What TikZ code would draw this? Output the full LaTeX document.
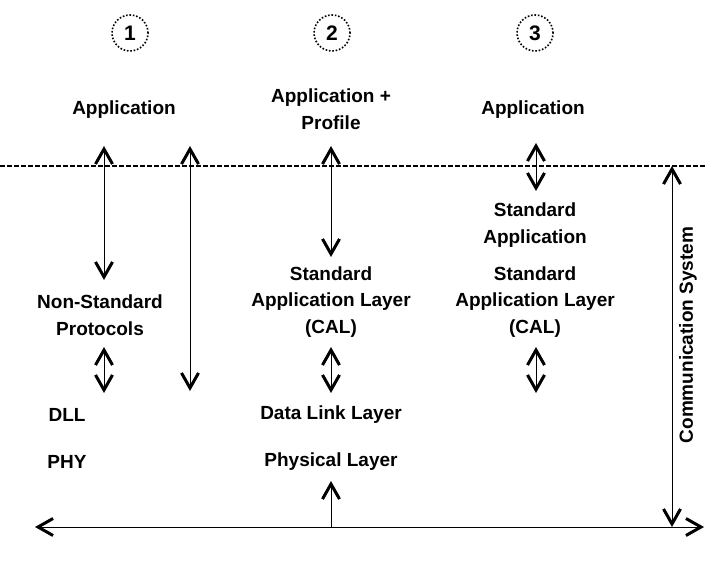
\documentclass[tikz,border=0pt]{standalone}
\usepackage{fontspec}
\setmainfont{Liberation Sans}
\usetikzlibrary{arrows.meta, positioning, calc}
\tikzset{
	every node/.style={
		align=center,
	},
	layer-text/.style={
		inner sep=0pt,
		font=\bfseries\fontsize{19}{26.5}\selectfont,
		text centered,
		anchor=center
	},
	case-mark/.style={
		circle,
		draw=black, line width=1.6pt, dash pattern=on 1.6pt off 1.8pt,
		minimum size=36pt,
		inner sep=0pt,
		font=\bfseries\fontsize{21}{22}\selectfont
	},
	barb/.tip = {Straight Barb[length=15pt,width=17pt,line width=3pt]},
	edge-style/.style   = {line width=0.9pt, barb-barb},
	edge-one-style/.style = {line width=0.9pt, -barb},
	split-style/.style = {line width=1.5pt, dash pattern=on 5pt off 2pt},
}

\begin{document}
\begin{tikzpicture}[x=1pt,y=-1pt]
	\useasboundingbox (0,0) rectangle (706,569);
	% the three cases
	\node (c1) [case-mark] at (130,33) {1};
	\node (c2) [case-mark] at (332,33) {2};
	\node (c3) [case-mark] at (535,33) {3};
	% user level
	\node (app1) [layer-text] at (124,110) {Application};
	\node (app2) [layer-text] at (331,109) {Application +\\Profile};
	\node (app3) [layer-text] at (533,110) {Application};
	% communication level
	\node (nonstd) [layer-text] at (100,315) {Non-Standard\\Protocols};
	\node (cal2) [layer-text] at (331,302) {Standard\\Application Layer\\(CAL)};
	\node (stdapp3) [layer-text] at (535,225) {Standard\\Application};
	\node (cal3) [layer-text] at (535,302) {Standard\\Application Layer\\(CAL)};
	\node (dll1) [layer-text] at (67,415) {DLL};
	\node (phy1) [layer-text] at (67,462) {PHY};
	\node (dll2) [layer-text] at (331,415) {Data Link Layer};
	\node (phy2) [layer-text] at (331,462) {Physical Layer};
	\node (comm) [layer-text, rotate=90] at (688,335) {Communication System};
	% end points
	\coordinate (splitL) at (0,166);
	\coordinate (splitR) at (706,166);
	\coordinate (busL) at (35,527);
	\coordinate (busR) at (704,527);
	\coordinate (bus2) at (331,527);
	\coordinate (sysT) at (672,166);
	\coordinate (sysB) at (672,527);
	\coordinate (a1t) at (104,146);
	\coordinate (a1b) at (104,280);
	\coordinate (b1t) at (190,146);
	\coordinate (b1b) at (190,391);
	\coordinate (a2t) at (331,146);
	\coordinate (a2b) at (331,257);
	\coordinate (a3t) at (536,143);
	\coordinate (a3b) at (536,191);
	\coordinate (d1t) at (104,347);
	\coordinate (d1b) at (104,393);
	\coordinate (d2t) at (331,347);
	\coordinate (d2b) at (331,393);
	\coordinate (d3t) at (536,347);
	\coordinate (d3b) at (536,393);
	\coordinate (p2t) at (331,481);
	% lines
	\draw [split-style] (splitL) -- (splitR);
	\draw [edge-style] (a1t) -- (a1b);
	\draw [edge-style] (b1t) -- (b1b);
	\draw [edge-style] (a2t) -- (a2b);
	\draw [edge-style] (a3t) -- (a3b);
	\draw [edge-style] (d1t) -- (d1b);
	\draw [edge-style] (d2t) -- (d2b);
	\draw [edge-style] (d3t) -- (d3b);
	\draw [edge-style] (sysT) -- (sysB);
	\draw [edge-style] (busL) -- (busR);
	\draw [edge-one-style] (bus2) -- (p2t);
\end{tikzpicture}
\end{document}
